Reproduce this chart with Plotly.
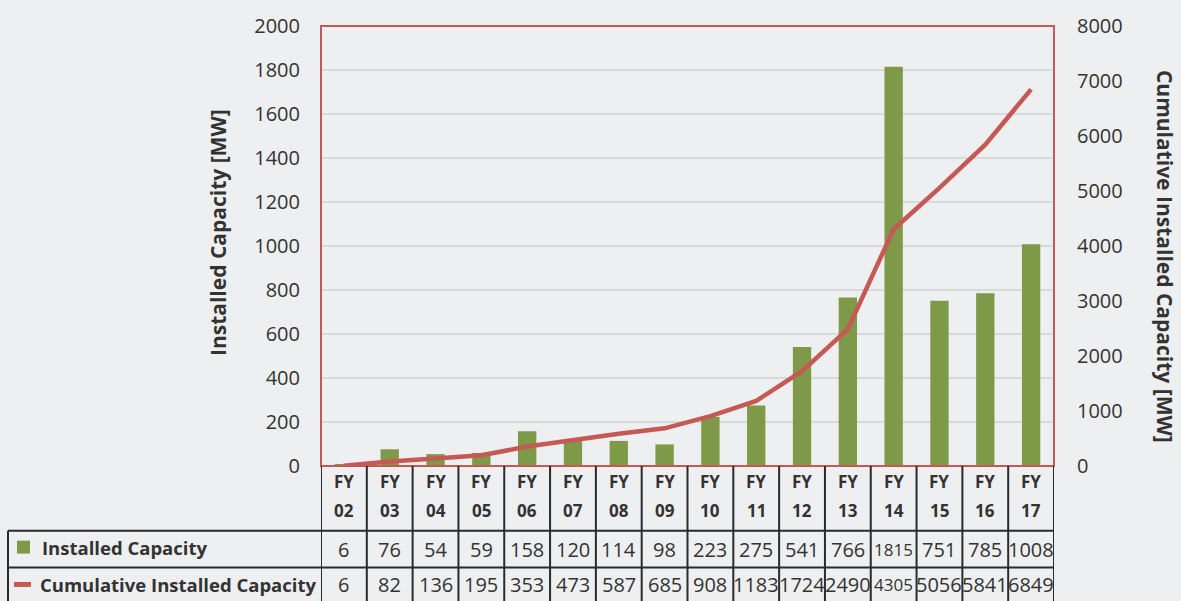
import plotly.graph_objects as go

years = ["02", "03", "04", "05", "06", "07", "08", "09", "10", "11", "12", "13", "14", "15", "16", "17"]
categories = ["FY " + y for y in years]
installed = [6, 76, 54, 59, 158, 120, 114, 98, 223, 275, 541, 766, 1815, 751, 785, 1008]
cumulative = [6, 82, 136, 195, 353, 473, 587, 685, 908, 1183, 1724, 2490, 4305, 5056, 5841, 6849]
left_ticks = [0, 200, 400, 600, 800, 1000, 1200, 1400, 1600, 1800, 2000]
right_ticks = [0, 1000, 2000, 3000, 4000, 5000, 6000, 7000, 8000]

BG = "#eeeff1"
GREEN = "#7e9a48"
RED = "#c55a55"
TXT = "#333333"
FONT = "Open Sans"

W, H = 1181, 601
L, R, T, B = 321, 1054, 24, 466
PH = B - T
PW = R - L

def py(p):
    return (B - p) / PH

def px(p):
    return (p - L) / PW

fig = go.Figure()
fig.add_trace(go.Bar(x=categories, y=installed, marker=dict(color=GREEN, line=dict(width=0)),
                     name="Installed Capacity", yaxis="y"))
fig.add_trace(go.Scatter(x=categories, y=cumulative, mode="lines", line=dict(color=RED, width=4.5),
                         name="Cumulative Installed Capacity", yaxis="y2"))

fig.update_layout(
    width=W, height=H,
    paper_bgcolor=BG, plot_bgcolor=BG,
    margin=dict(l=L, r=W - R, t=T, b=H - B, pad=0),
    showlegend=False,
    bargap=0.6,
    font=dict(family=FONT, color=TXT),
    xaxis=dict(type="category", range=[-0.5, 15.5], showticklabels=False, showgrid=False,
               zeroline=False, showline=False, ticks=""),
    yaxis=dict(range=[0, 2000], tickvals=left_ticks, showgrid=True, gridcolor="#d9d9db", gridwidth=1.5,
               zeroline=False, showline=False, ticks="", tickfont=dict(size=20, color=TXT),
               ticklabelstandoff=20),
    yaxis2=dict(range=[0, 8000], tickvals=right_ticks, overlaying="y", side="right", showgrid=False,
                zeroline=False, showline=False, ticks="", tickfont=dict(size=20, color=TXT),
                ticklabelstandoff=22),
)

shapes = []
shapes.append(dict(type="rect", xref="paper", yref="paper", x0=0, x1=1, y0=0, y1=1,
                   line=dict(color=RED, width=2), layer="above"))
LINE = dict(color="#2b2b2b", width=2)
for i in range(len(categories) + 1):
    shapes.append(dict(type="line", xref="x", yref="paper", x0=i - 0.5, x1=i - 0.5,
                       y0=py(466), y1=py(604), line=LINE))
for p in (531, 568):
    shapes.append(dict(type="line", xref="paper", yref="paper", x0=px(8), x1=1,
                       y0=py(p), y1=py(p), line=LINE))
shapes.append(dict(type="line", xref="paper", yref="paper", x0=px(8), x1=px(8),
                   y0=py(531), y1=py(604), line=LINE))
shapes.append(dict(type="rect", xref="paper", yref="paper", x0=px(17), x1=px(30),
                   y0=py(554), y1=py(541), fillcolor=GREEN, line=dict(width=0)))
shapes.append(dict(type="line", xref="paper", yref="paper", x0=px(14), x1=px(31),
                   y0=py(585), y1=py(585), line=dict(color=RED, width=5)))

ann = []
small = {1815, 4305}
for c, yv, iv, cv in zip(categories, years, installed, cumulative):
    ann.append(dict(x=c, xref="x", y=py(482), yref="paper", text="<b>FY</b>",
                    showarrow=False, font=dict(size=17, color=TXT), yanchor="middle"))
    ann.append(dict(x=c, xref="x", y=py(511), yref="paper", text="<b>" + yv + "</b>",
                    showarrow=False, font=dict(size=17, color=TXT), yanchor="middle"))
    ann.append(dict(x=c, xref="x", y=py(550), yref="paper", text=str(iv),
                    showarrow=False, font=dict(size=17 if iv in small else 20, color=TXT), yanchor="middle"))
    ann.append(dict(x=c, xref="x", y=py(585), yref="paper", text=str(cv),
                    showarrow=False, font=dict(size=17 if cv in small else 20, color=TXT), yanchor="middle"))

ann.append(dict(x=px(40), xref="paper", y=py(548), yref="paper", text="<b>Installed Capacity</b>",
                showarrow=False, xanchor="left", yanchor="middle", font=dict(size=18.5, color=TXT)))
ann.append(dict(x=px(38), xref="paper", y=py(585), yref="paper", text="<b>Cumulative Installed Capacity</b>",
                showarrow=False, xanchor="left", yanchor="middle", font=dict(size=18.5, color=TXT)))
ann.append(dict(x=px(218), xref="paper", y=py(232), yref="paper", text="<b>Installed Capacity [MW]</b>",
                showarrow=False, textangle=-90, xanchor="center", yanchor="middle",
                font=dict(size=21, color=TXT)))
ann.append(dict(x=px(1165), xref="paper", y=py(255), yref="paper",
                text="<b>Cumulative Installed Capacity [MW]</b>",
                showarrow=False, textangle=90, xanchor="center", yanchor="middle",
                font=dict(size=21, color=TXT)))

fig.update_layout(shapes=shapes, annotations=ann)
fig.write_html("out.html", config={"displayModeBar": False},
               post_script="document.body.style.margin='0';document.body.style.overflow='hidden';"
                           "document.documentElement.style.overflow='hidden';")
